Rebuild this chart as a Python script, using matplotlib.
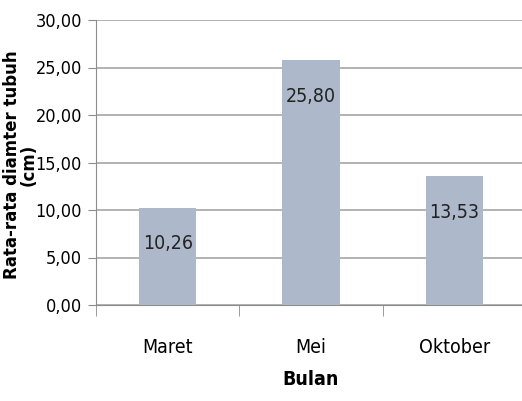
import matplotlib
matplotlib.use('Agg')
import numpy as np
import matplotlib.pyplot as plt

months = ['Maret', 'Mei', 'Oktober']
diameter = [10.26, 25.80, 13.53]
yticks = [0, 5, 10, 15, 20, 25, 30]

narrow = dict(family='DejaVu Sans', stretch='condensed')

def fmt(v):
    return '{:.2f}'.format(v).replace('.', ',')

fig = plt.figure(figsize=(5.22, 4.01), dpi=100)
ax = fig.add_axes([96 / 522, 1 - 305 / 401, 430 / 522, 285 / 401])

x = np.arange(len(months))
bars = ax.bar(x, diameter, width=0.4, color='#adb9ca', zorder=3)
for b, v in zip(bars, diameter):
    ax.annotate(fmt(v), (b.get_x() + b.get_width() / 2, v), xytext=(0, -26),
                textcoords='offset points', ha='center', va='center',
                fontsize=14, color='#222222', zorder=4, **narrow)

ax.set_xlim(-0.5, 2.5)
ax.set_ylim(0, 30)
ax.set_yticks(yticks)
ax.set_yticklabels([fmt(v) for v in yticks], fontsize=13, **narrow)
ax.yaxis.grid(True, color='#a6a6a6', linewidth=1.2, zorder=0)
ax.set_axisbelow(True)

# category labels centred, ticks at the boundaries
ax.set_xticks(x)
ax.set_xticklabels(months, fontsize=14, **narrow)
ax.tick_params(axis='x', which='major', length=0, pad=24)
ax.set_xticks(np.arange(-0.5, 3.0, 1.0), minor=True)
ax.tick_params(axis='x', which='minor', length=8, color='#8c8c8c', direction='out')
ax.tick_params(axis='y', length=6, color='#8c8c8c', pad=4)

for s in ['top', 'right']:
    ax.spines[s].set_visible(False)
for s in ['left', 'bottom']:
    ax.spines[s].set_color('#8c8c8c')

ax.set_xlabel('Bulan', fontsize=14, fontweight='bold', labelpad=9, **narrow)
fig.text(20 / 522, 1 - 165 / 401, 'Rata-rata diamter tubuh\n(cm)', rotation=90,
         ha='center', va='center', fontsize=12, fontweight='bold',
         family='DejaVu Sans', linespacing=0.9)

fig.savefig('out.png', dpi=100)
